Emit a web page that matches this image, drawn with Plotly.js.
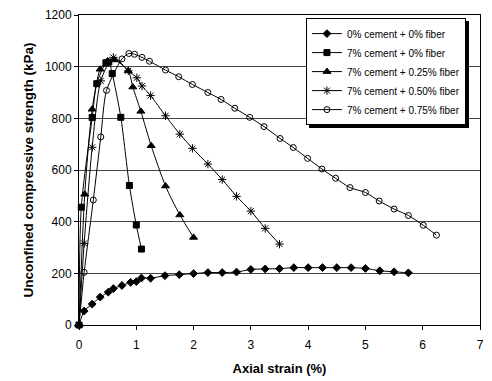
<!DOCTYPE html>
<html>
<head>
<meta charset="utf-8">
<script src="https://cdn.plot.ly/plotly-3.0.1.min.js"></script>
<style>
html,body{margin:0;padding:0;background:#fff;}
#chart{width:492px;height:381px;}
#chart .legend rect.bg{filter:url(#legshadow);}
</style>
</head>
<body>
<svg width="0" height="0" style="position:absolute;left:0;top:0;">
  <defs>
    <filter id="legshadow" x="-5%" y="-5%" width="115%" height="120%">
      <feFlood flood-color="#000" result="f"/>
      <feComposite in="f" in2="SourceAlpha" operator="in" result="a"/>
      <feOffset in="a" dx="3" dy="3" result="s"/>
      <feMerge>
        <feMergeNode in="s"/>
        <feMergeNode in="SourceGraphic"/>
      </feMerge>
    </filter>
  </defs>
</svg>
<div id="chart"></div>
<script>
var names = ["0% cement + 0% fiber","7% cement + 0% fiber","7% cement + 0.25% fiber","7% cement + 0.50% fiber","7% cement + 0.75% fiber"];

var x0 = [0,0.09,0.23,0.37,0.51,0.6,0.75,0.9,1.0,1.09,1.25,1.5,1.75,2.0,2.25,2.5,2.75,3.0,3.25,3.5,3.75,4.0,4.25,4.5,4.75,5.0,5.25,5.5,5.75];
var y0 = [0,54,81,108,127,141,153,165,168,182,181,191,195,199,203,203,205,215,217,218,222,222,222,222,222,219,210,206,202];

var x1 = [0,0.04,0.23,0.31,0.47,0.52,0.58,0.73,0.88,1.0,1.09];
var y1 = [0,456,803,934,1015,1018,973,804,540,387,294];

var x2 = [0,0.1,0.23,0.37,0.5,0.62,0.86,0.94,1.08,1.26,1.51,1.76,2.0];
var y2 = [0,506,835,990,1022,1026,984,921,827,694,538,426,339];

var x3 = [0,0.09,0.23,0.38,0.6,0.86,1.01,1.1,1.25,1.51,1.76,1.98,2.25,2.5,2.75,3.0,3.25,3.5];
var y3 = [0,316,688,945,1036,984,957,925,888,810,739,684,623,563,498,441,374,313];

var x4 = [0,0.09,0.25,0.38,0.48,0.75,0.87,0.97,1.1,1.23,1.51,1.74,1.98,2.25,2.48,2.72,2.98,3.23,3.51,3.74,3.99,4.24,4.48,4.73,5.0,5.24,5.5,5.75,6.01,6.24];
var y4 = [0,204,484,728,908,1030,1051,1048,1036,1021,987,961,931,900,873,839,804,768,722,687,645,604,568,532,513,480,449,424,386,348];

var xs = [x0,x1,x2,x3,x4];
var ys = [y0,y1,y2,y3,y4];
var symbols = ["diamond","square","triangle-up","asterisk-open","circle-open"];
var sizes = [6,6,7,7,6];

var traces = [];
for (var i = 0; i < 5; i++) {
  traces.push({
    x: xs[i], y: ys[i], name: names[i], type: "scatter", mode: "lines+markers",
    line: {color: "#000", width: 1, shape: "spline", smoothing: 0.7},
    marker: {symbol: symbols[i], size: sizes[i], color: "#000", line: {color: "#000", width: 1}},
    cliponaxis: false
  });
}

var L = 79, T = 15, W = 401, H = 310;
var layout = {
  width: 492, height: 381,
  margin: {l: L, r: 492 - L - W, t: T, b: 381 - T - H},
  paper_bgcolor: "#fff", plot_bgcolor: "#fff",
  font: {family: "Liberation Sans, Arial, sans-serif", size: 12, color: "#000"},
  showlegend: true,
  legend: {
    x: 0.566, y: 0.99, xanchor: "left", yanchor: "top",
    bgcolor: "#fff", bordercolor: "#000", borderwidth: 1,
    font: {size: 10, family: "Liberation Sans, Arial, sans-serif"},
    tracegroupgap: 0, itemwidth: 30
  },
  xaxis: {
    range: [0, 7], dtick: 1, tick0: 0,
    showline: true, linecolor: "#000", linewidth: 1, mirror: true,
    ticks: "outside", ticklen: 4, tickcolor: "#000",
    showgrid: false, zeroline: false,
    tickfont: {size: 12}, ticklabelstandoff: 5,
    title: {text: "<b>Axial strain (%)</b>", font: {size: 13}, standoff: 12}
  },
  yaxis: {
    range: [0, 1200], dtick: 200, tick0: 0,
    showline: true, linecolor: "#000", linewidth: 1, mirror: true,
    ticks: "outside", ticklen: 4, tickcolor: "#000",
    showgrid: true, gridcolor: "#444", gridwidth: 1, zeroline: false,
    tickfont: {size: 12},
    title: {text: "<b>Unconfined compressive strength (kPa)</b>", font: {size: 13.5}, standoff: 8}
  }
};

Plotly.newPlot("chart", traces, layout, {displayModeBar: false, staticPlot: true});
</script>
</body>
</html>
